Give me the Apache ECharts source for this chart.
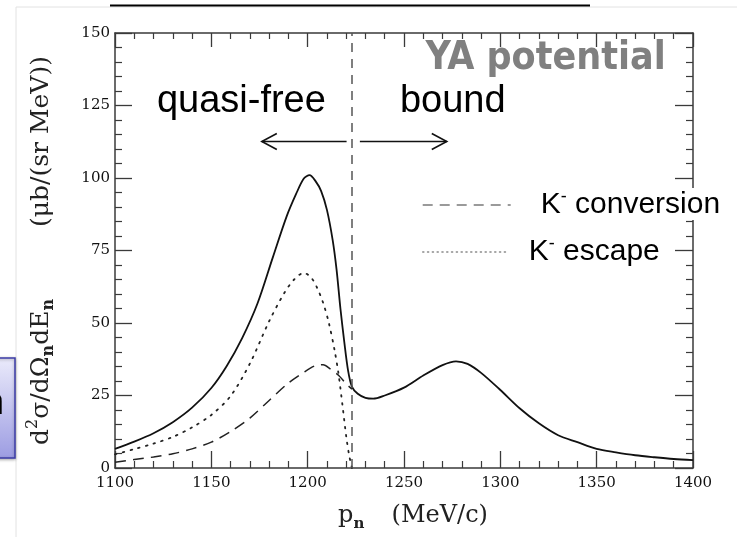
<!DOCTYPE html>
<html>
<head>
<meta charset="utf-8">
<script src="https://cdn.jsdelivr.net/npm/echarts@6/dist/echarts.min.js"></script>
<style>
  html, body { margin: 0; padding: 0; background: #fff; }
  #chart { width: 737px; height: 537px; }
</style>
</head>
<body>
<div id="chart"></div>
<script>
// total spectrum (solid)
const totalX = [1100, 1110, 1120, 1130, 1140, 1150, 1158, 1166, 1174, 1182, 1189, 1194, 1198, 1201, 1204, 1207, 1210, 1213, 1215, 1217, 1219, 1221, 1223, 1226, 1230, 1234, 1240, 1250, 1260, 1270, 1277, 1283, 1290, 1300, 1310, 1320, 1330, 1340, 1350, 1360, 1370, 1380, 1390, 1400];
const totalY = [6.6, 9.1, 12.0, 15.8, 20.8, 27.6, 35.2, 44.8, 56.8, 72.8, 86.6, 94.5, 99.8, 101.0, 99.0, 95.5, 89.0, 78.5, 68.4, 55.0, 43.5, 33.5, 28.0, 25.6, 24.2, 23.9, 25.0, 27.7, 31.9, 35.5, 36.8, 35.9, 32.8, 26.9, 20.6, 15.4, 11.3, 8.9, 6.6, 5.4, 4.4, 3.7, 3.1, 2.7];

// K- conversion (dashed)
const convX = [1100, 1110, 1120, 1130, 1140, 1150, 1160, 1170, 1180, 1190, 1198, 1204, 1208, 1212, 1216, 1220, 1223];
const convY = [2.0, 2.9, 3.8, 4.9, 6.6, 8.9, 12.6, 17.2, 23.3, 29.3, 33.0, 35.3, 35.6, 34.0, 32.0, 29.0, 27.2];

// K- escape (dotted)
const escX = [1100, 1110, 1120, 1130, 1140, 1150, 1160, 1170, 1180, 1188, 1193, 1198, 1202, 1205, 1208, 1211, 1214, 1216, 1218, 1220, 1221.5, 1223];
const escY = [4.7, 6.5, 8.4, 10.7, 14.0, 18.3, 24.8, 36.0, 50.6, 60.5, 65.0, 67.3, 65.5, 62.0, 57.0, 50.0, 40.5, 32.5, 22.0, 11.0, 4.5, 0];

const boundaryX = 1223;
const seriesNames = ['total', 'K- conversion', 'K- escape'];

const zip = (xs, ys) => xs.map((x, i) => [x, ys[i]]);

const axisColor = '#3a3a3a';
const serif = "'DejaVu Serif', serif";
const sans = "'Liberation Sans', Arial, sans-serif";

const chart = echarts.init(document.getElementById('chart'));

const tickAxis = (pos, len, minLen) => ({
  axisLine: { show: true, onZero: false, lineStyle: { color: axisColor, width: 1.5 } },
  axisTick: { show: true, inside: true, length: len, lineStyle: { color: axisColor, width: 1.3 } },
  minorTick: { show: true, splitNumber: 5, length: minLen, lineStyle: { color: axisColor, width: 1.2 } },
  splitLine: { show: false },
  minorSplitLine: { show: false },
  position: pos
});

const legendText = (pad) => ({
  fontFamily: sans, fontSize: 30, color: '#000',
  rich: {
    k: { fontFamily: sans, fontSize: 30, lineHeight: 34, padding: [0, 0, 0, pad] },
    s: { fontFamily: sans, fontSize: 18, lineHeight: 34, verticalAlign: 'top' },
    t: { fontFamily: sans, fontSize: 30, lineHeight: 34 }
  }
});

const option = {
  animation: false,
  backgroundColor: '#fff',
  grid: { left: 115, right: 44, top: 33, bottom: 68.5 },
  xAxis: [
    Object.assign(tickAxis('bottom', 17, 7), {
      type: 'value', min: 1100, max: 1400, interval: 50,
      axisLabel: { fontFamily: serif, fontSize: 15, color: '#111', margin: 8, formatter: v => String(v) },
      name: '{p|p}{s|n}{m|  (MeV/c)}',
      nameLocation: 'middle',
      nameGap: 32,
      nameTextStyle: {
        fontFamily: serif, fontSize: 24, color: '#222',
        rich: {
          p: { fontFamily: serif, fontSize: 24, lineHeight: 32, padding: [0, 0, 0, 18] },
          s: { fontFamily: serif, fontSize: 15, fontWeight: 'bold', verticalAlign: 'bottom', lineHeight: 32 },
          m: { fontFamily: serif, fontSize: 24, lineHeight: 32, padding: [0, 0, 0, 12] }
        }
      }
    }),
    Object.assign(tickAxis('top', 14, 6), {
      type: 'value', min: 1100, max: 1400, interval: 50,
      axisLabel: { show: false }
    })
  ],
  yAxis: [
    Object.assign(tickAxis('left', 17, 7), {
      type: 'value', min: 0, max: 150, interval: 25,
      axisLabel: { fontFamily: serif, fontSize: 15, color: '#111', margin: 5 },
      name: '{a|d}{p|2}{a|σ/dΩ}{b|n}{a|dE}{b|n}{g|(μb/(sr MeV))}',
      nameLocation: 'middle',
      nameRotate: 90,
      nameGap: 58,
      nameTextStyle: {
        fontFamily: serif, fontSize: 25, color: '#222',
        rich: {
          a: { fontFamily: serif, fontSize: 25, lineHeight: 32 },
          p: { fontFamily: serif, fontSize: 16, verticalAlign: 'top', lineHeight: 32 },
          b: { fontFamily: serif, fontSize: 16, fontWeight: 'bold', verticalAlign: 'bottom', lineHeight: 32 },
          g: { fontFamily: serif, fontSize: 25, lineHeight: 32, padding: [0, 0, 0, 72] }
        }
      }
    }),
    Object.assign(tickAxis('right', 18, 7), {
      type: 'value', min: 0, max: 150, interval: 25,
      axisLabel: { show: false }
    })
  ],
  legend: [
    {
      data: [seriesNames[1]], left: 422, top: 188, orient: 'vertical',
      itemWidth: 88, itemHeight: 14, padding: [0, 4, 0, 0],
      backgroundColor: '#fff', selectedMode: false,
      itemStyle: { opacity: 0 },
      lineStyle: { color: '#7a7a7a', width: 1.4, type: [10, 7] },
      formatter: () => '{k|K}{s|-}{t| conversion}',
      textStyle: legendText(25)
    },
    {
      data: [seriesNames[2]], left: 422, top: 235, orient: 'vertical',
      itemWidth: 85, itemHeight: 14, padding: 0,
      selectedMode: false,
      itemStyle: { opacity: 0 },
      lineStyle: { color: '#8a8a8a', width: 1.4, type: [1.2, 3.6] },
      formatter: () => '{k|K}{s|-}{t| escape}',
      textStyle: legendText(16)
    }
  ],
  series: [
    {
      name: seriesNames[0], type: 'line', data: zip(totalX, totalY),
      symbol: 'none', smooth: 0.3, z: 3,
      lineStyle: { color: '#111', width: 1.8 },
      markLine: {
        silent: true, symbol: 'none', label: { show: false },
        lineStyle: { color: '#555', width: 1.5, type: [9, 7] },
        data: [{ xAxis: boundaryX }]
      }
    },
    {
      name: seriesNames[1], type: 'line', data: zip(convX, convY),
      symbol: 'none', smooth: 0.3,
      lineStyle: { color: '#222', width: 1.5, type: [11, 7] }
    },
    {
      name: seriesNames[2], type: 'line', data: zip(escX, escY),
      symbol: 'none', smooth: 0.3,
      lineStyle: { color: '#222', width: 1.8, type: [1.6, 6.4], cap: 'round' }
    }
  ]
};

chart.setOption(option);

// annotations placed in data coordinates
const px = (x, y) => chart.convertToPixel({ xAxisIndex: 0, yAxisIndex: 0 }, [x, y]);
const arrowY = 112.6;
const leftTail = px(1220.2, arrowY), leftHead = px(1176.2, arrowY);
const rightTail = px(1227.1, arrowY), rightHead = px(1272.2, arrowY);
const quasiPos = px(1165.6, 126.4), boundPos = px(1275.3, 126.4), yaPos = px(1323.5, 141.0);

const arrowStyle = { stroke: '#111', lineWidth: 1.6, fill: null };
const head = (p, dir) => ({
  type: 'polyline', z: 10,
  shape: { points: [[p[0] + dir * 15, p[1] - 8], [p[0], p[1]], [p[0] + dir * 15, p[1] + 8]] },
  style: arrowStyle
});

chart.setOption({
  graphic: [
    // slide frame and cut-off title underline
    { type: 'line', shape: { x1: 16, y1: 7, x2: 737, y2: 7 }, style: { stroke: '#e2e2e2', lineWidth: 1 } },
    { type: 'line', shape: { x1: 16, y1: 7, x2: 16, y2: 537 }, style: { stroke: '#e2e2e2', lineWidth: 1 } },
    { type: 'line', shape: { x1: 110, y1: 5.5, x2: 590, y2: 5.5 }, style: { stroke: '#000', lineWidth: 2 } },
    // side box from the slide
    {
      type: 'rect', shape: { x: -10, y: 358, width: 25, height: 100 },
      style: {
        fill: new echarts.graphic.LinearGradient(0, 0, 0, 1, [
          { offset: 0, color: '#ebebfb' }, { offset: 1, color: '#9c9ce2' }
        ]),
        stroke: '#3c3ca8', lineWidth: 1.5,
        shadowBlur: 3, shadowColor: 'rgba(0,0,0,0.3)', shadowOffsetY: 1
      }
    },
    { type: 'text', x: 4, y: 422, style: { text: 'n', fontFamily: sans, fontSize: 36, fill: '#000', align: 'right', verticalAlign: 'bottom' } },
    // annotations
    { type: 'text', x: quasiPos[0], y: quasiPos[1], z: 10, style: { text: 'quasi-free', fontFamily: sans, fontSize: 38, fill: '#000', align: 'center', verticalAlign: 'middle' } },
    { type: 'text', x: boundPos[0], y: boundPos[1], z: 10, style: { text: 'bound', fontFamily: sans, fontSize: 38, fill: '#000', align: 'center', verticalAlign: 'middle' } },
    { type: 'text', x: yaPos[0], y: yaPos[1], z: 10, style: { text: 'YA potential', fontFamily: "'Liberation Sans Narrow', 'DejaVu Sans Condensed', sans-serif", fontWeight: 'bold', fontSize: 39, fill: '#808080', align: 'center', verticalAlign: 'middle' } },
    { type: 'line', z: 10, shape: { x1: leftTail[0], y1: leftTail[1], x2: leftHead[0], y2: leftHead[1] }, style: arrowStyle },
    head(leftHead, 1),
    { type: 'line', z: 10, shape: { x1: rightTail[0], y1: rightTail[1], x2: rightHead[0], y2: rightHead[1] }, style: arrowStyle },
    head(rightHead, -1)
  ]
});
</script>
</body>
</html>
